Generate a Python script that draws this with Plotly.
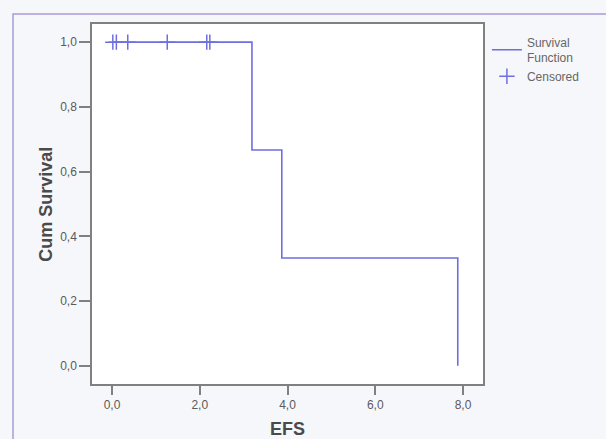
import plotly.graph_objects as go

# Kaplan-Meier step data
event_times = [0.0, 3.19, 3.87, 7.88]
survival = [1.0, 0.667, 0.333, 0.0]
censored_times = [0.02, 0.10, 0.36, 1.26, 2.16, 2.23]
censored_surv = [1.0, 1.0, 1.0, 1.0, 1.0, 1.0]

x_ticks = [0, 2, 4, 6, 8]
y_ticks = [0.0, 0.2, 0.4, 0.6, 0.8, 1.0]

line_col = "#6e6ee0"
txt_col = "#5a5a5a"
frame_col = "#808080"

# build step coordinates from data
xs, ys = [], []
for i, (t, s) in enumerate(zip(event_times, survival)):
    if i > 0:
        xs.append(t)
        ys.append(survival[i - 1])
    xs.append(t)
    ys.append(s)

fig = go.Figure()
fig.add_trace(go.Scatter(
    x=xs, y=ys, mode="lines", name="Survival<br>Function",
    line=dict(color=line_col, width=1.6),
))
fig.add_trace(go.Scatter(
    x=censored_times, y=censored_surv, mode="markers", name="Censored",
    marker=dict(symbol="cross-thin", size=11, line=dict(color=line_col, width=1.5)),
))

fig.update_layout(
    width=606, height=439,
    margin=dict(l=92, r=123, t=24, b=55),
    paper_bgcolor="#f6f7fa",
    plot_bgcolor="#ffffff",
    separators=",.",
    font=dict(family="Liberation Sans, Arial, sans-serif", color=txt_col, size=12),
    legend=dict(
        x=1.01, y=0.99, xanchor="left", yanchor="top",
        bgcolor="rgba(0,0,0,0)", font=dict(size=12, color="#666"),
        tracegroupgap=8,
    ),
    shapes=[dict(
        type="rect", xref="paper", yref="paper",
        x0=-0.202, x1=1.35, y0=-0.2, y1=1.028,
        line=dict(color="#a99bd8", width=1.5), layer="below",
    )],
    annotations=[dict(
        text="<b>Cum Survival</b>", xref="paper", yref="paper",
        x=-0.118, y=0.5, xanchor="center", yanchor="middle",
        textangle=-90, showarrow=False,
        font=dict(size=18, color="#4a4a4a"),
    )],
)
fig.update_xaxes(
    range=[-0.455, 8.455], tickvals=x_ticks, tickformat=".1f",
    showgrid=False, zeroline=False, showline=True, mirror=True,
    linecolor=frame_col, linewidth=1.5, automargin=False,
    ticks="outside", ticklen=9, tickwidth=1.5, tickcolor=frame_col,
    tickfont=dict(size=12, color=txt_col),
    title=dict(text="<b>EFS</b>", font=dict(size=18, color="#4a4a4a")),
)
fig.update_yaxes(
    range=[-0.056, 1.056], tickvals=y_ticks, tickformat=".1f",
    showgrid=False, zeroline=False, showline=True, mirror=True,
    linecolor=frame_col, linewidth=1.5, automargin=False,
    ticks="outside", ticklen=11, tickwidth=1.5, tickcolor=frame_col,
    tickfont=dict(size=12, color=txt_col),
)

fig.write_html("out.html")
